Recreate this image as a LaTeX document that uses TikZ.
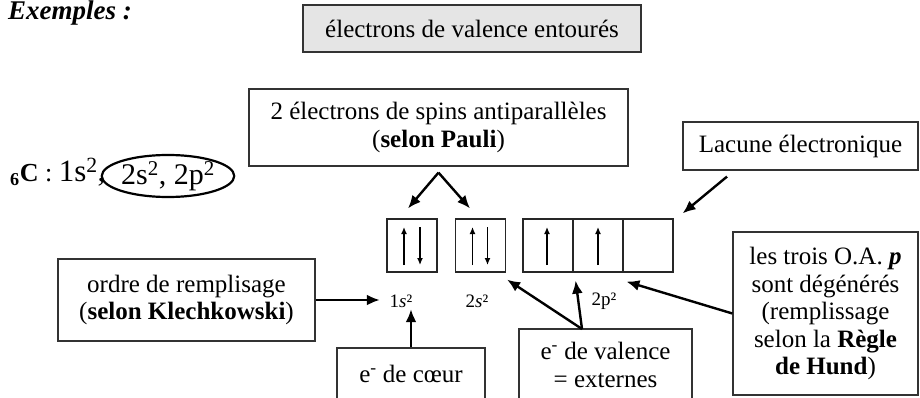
\documentclass[tikz,border=0pt]{standalone}
\usepackage{fontspec}
\setmainfont{Liberation Serif}
\usetikzlibrary{arrows.meta,shapes.geometric}

\begin{document}
\begin{tikzpicture}[x=1pt, y=-1pt, >={Latex[length=13pt,width=11pt]}]
    \useasboundingbox (0,0) rectangle (920,398);

    \tikzstyle{boite} = [draw = black!80, line width = 1.2pt, align = center, inner sep = 0pt, font = \fontsize{25}{27.5}\selectfont]
    \tikzstyle{orb} = [draw = black!85, line width = 1.2pt, minimum width = 50pt, minimum height = 53pt, inner sep = 0pt]
    \tikzstyle{orblab} = [inner sep = 0pt, minimum width = 42pt, minimum height = 16pt, font = \fontsize{19}{20}\selectfont]
    \tikzstyle{fl} = [->, line width = 2.4pt]
    \tikzstyle{spin} = [-{Latex[length=7pt,width=6pt]}, line width = 1.3pt]

    % titre et configuration
    \node[anchor = base west, inner sep = 0pt, font = \fontsize{27}{30}\selectfont\bfseries\itshape] (exemples) at (8,20) {Exemples :};
    \node[boite, fill = black!10, minimum width = 338pt, minimum height = 47pt] (entoures) at (472,28.5) {électrons de valence entourés};

    \node[anchor = base west, inner sep = 0pt] (conf) at (10,182)
        {\fontsize{26}{30}\selectfont\textbf{\textsubscript{6}C} : \fontsize{31}{36}\selectfont 1s\textsuperscript{2},};
    \node[ellipse, draw, line width = 2.2pt, minimum width = 121pt, minimum height = 42pt, inner sep = 0pt,
          font = \fontsize{30}{36}\selectfont] (valconf) at (168,176) {2s\textsuperscript{2}, 2p\textsuperscript{2}};

    % cases quantiques
    \node[orb] (o1s) at (412,245.5) {};
    \node[orb] (o2s) at (480.5,245.5) {};
    \node[orb] (o2pa) at (548,245.5) {};
    \node[orb] (o2pb) at (598,245.5) {};
    \node[orb] (o2pc) at (648,245.5) {};

    \draw[spin] (o1s.center) ++(-8,19.5) -- ++(0,-38);
    \draw[spin] (o1s.center) ++(8,-18.5) -- ++(0,38);
    \draw[spin] (o2s.center) ++(-8,19.5) -- ++(0,-38);
    \draw[spin] (o2s.center) ++(7,-18.5) -- ++(0,38);
    \draw[spin] (o2pa.center) ++(-1,19.5) -- ++(0,-38);
    \draw[spin] (o2pb.center) ++(0,19.5) -- ++(0,-38);

    \node[orblab] (l1s) at (401,301) {1\textit{s}²};
    \node[orblab] (l2s) at (477,301) {2\textit{s}²};
    \node[orblab] (l2p) at (604,301) {2p²};

    % bulles
    \node[boite, minimum width = 379pt, minimum height = 77pt] (pauli) at (438.5,127.5)
        {2 électrons de spins antiparallèles\\(\textbf{selon Pauli})};
    \node[boite, minimum width = 235pt, minimum height = 48pt] (lacune) at (800.5,146) {Lacune électronique};
    \node[boite, minimum width = 257pt, minimum height = 82pt] (klech) at (186.5,300)
        {ordre de remplisage\\(\textbf{selon Klechkowski})};
    \node[boite, minimum width = 148pt, minimum height = 52pt] (coeur) at (411,374) {e\textsuperscript{-} de cœur};
    \node[boite, minimum width = 173pt, minimum height = 72pt] (valence) at (605.5,365)
        {e\textsuperscript{-} de valence\\= externes};
    \node[boite, minimum width = 185pt, minimum height = 163pt] (hund) at (825.5,313.5)
        {les trois O.A. \textbf{\textit{p}}\\sont dégénérés\\(remplissage\\selon la \textbf{Règle}\\\textbf{de Hund})};

    % fleches
    \coordinate (pauliapex) at ([shift={(0,6)}]pauli.south);
    \draw[fl] (pauliapex) -- ([shift={(-4,-10)}]o1s.north);
    \draw[fl] (pauliapex) -- ([shift={(-10.5,-10)}]o2s.north);

    \draw[fl] ([shift={(-73.5,6)}]lacune.south) -- ([shift={(9,-5)}]o2pc.north east);
    \draw[fl] (klech.east) -- (klech.east -| l1s.west);
    \draw[fl] (coeur.north) -- (coeur.north |- l1s.south);

    \coordinate (valapex) at (582,329);
    \draw[fl] (valapex) -- ([shift={(1,7)}]o2s.south east);
    \draw[fl] (valapex) -- ([shift={(2,8)}]o2pa.south east);

    \draw[fl] (hund.west) -- ([shift={(4,9)}]o2pc.south west);
\end{tikzpicture}
\end{document}
